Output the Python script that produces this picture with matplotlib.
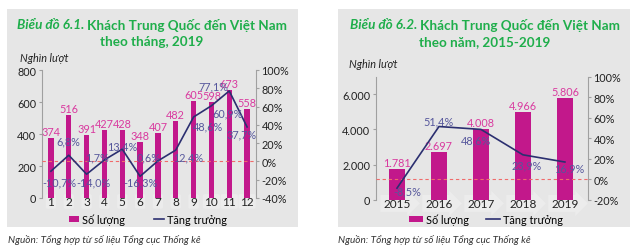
import matplotlib.pyplot as plt
from matplotlib.patches import Rectangle, Patch
from matplotlib.lines import Line2D

plt.rcParams['font.family'] = ['Lato', 'DejaVu Sans']

# data
months = ["1", "2", "3", "4", "5", "6", "7", "8", "9", "10", "11", "12"]
month_visitors = [374, 516, 391, 427, 428, 348, 407, 482, 605, 598, 673, 558]
month_growth = [-10.7, 6.8, -14.0, 1.7, 13.4, -16.3, 0.6, 12.4, 48.6, 60.9, 77.1, 37.7]

years = ["2015", "2016", "2017", "2018", "2019"]
year_visitors = [1781, 2697, 4008, 4966, 5806]
year_growth = [-8.5, 51.4, 48.6, 23.9, 16.9]

# label offsets in pixels (dx, dy)
month_off = [(8, -11), (0, 14), (7, -8), (-7, 3), (0, 3), (0, -6),
             (-9, 4), (12, -7), (14, -9), (16, -7), (-16, 5), (-6, -7)]
year_off = [(10, -3), (0, 6), (-5, -11), (4, -10), (4, -6)]

BAR = '#c2188b'
BAR_TXT = '#d93a9f'
LINE = '#2b2f70'
LINE_TXT = '#56579c'
GREEN = '#1fae4b'
BG = '#e6e6e6'
AXC = '#a0a0a0'
FS = 7.8

fig = plt.figure(figsize=(6.4, 2.53), dpi=100)
W, H = 640, 253


def fbox(x0, y0, x1, y1):
    return [x0 / W, 1 - y1 / H, (x1 - x0) / W, (y1 - y0) / H]


for x0, x1 in [(7, 298), (338, 630)]:
    b = fbox(x0, 10, x1, 228)
    fig.patches.append(Rectangle((b[0], b[1]), b[2], b[3], transform=fig.transFigure,
                                 facecolor=BG, edgecolor='none', zorder=-5))


def thousands(v):
    return f"{v:,}".replace(",", ".")


def pct(v):
    return f"{v:.1f}%".replace(".", ",")


def draw(ax, labels, vals, growth, offs, ylim, yticks, ytl, glim, gticks, width, fmt_bar, xlim):
    x = list(range(len(labels)))
    ax.set_facecolor('none')
    ax.bar(x, vals, width=width, color=BAR, zorder=2)
    for xi, v in zip(x, vals):
        ax.annotate(fmt_bar(v), (xi, v), xytext=(0, 1), textcoords='offset pixels',
                    ha='center', va='bottom', fontsize=FS, color=BAR_TXT, zorder=5)
    ax.set_ylim(*ylim)
    ax.set_yticks(yticks)
    ax.set_yticklabels(ytl)
    ax.set_xlim(*xlim)
    ax.set_xticks(x)
    ax.set_xticklabels(labels)
    for s in ['top', 'bottom', 'right']:
        ax.spines[s].set_visible(False)
    ax.spines['left'].set_color(AXC)
    ax.tick_params(axis='y', length=2, color=AXC, labelsize=FS, pad=2, labelcolor='#222222')
    ax.tick_params(axis='x', length=0, labelsize=8.5, pad=-1.5, labelcolor='#222222')

    ax2 = ax.twinx()
    ax2.set_ylim(*glim)
    ax2.set_yticks(gticks)
    ax2.set_yticklabels([f"{g}%" for g in gticks])
    for s in ['top', 'bottom', 'left']:
        ax2.spines[s].set_visible(False)
    ax2.spines['right'].set_color(AXC)
    ax2.tick_params(axis='y', length=2, color=AXC, labelsize=FS, pad=2, labelcolor='#222222')
    ax2.axhline(0, color='#f06b6b', lw=0.8, ls=(0, (3, 2.5)), zorder=1)
    ax2.plot(x, growth, color=LINE, lw=1.2, zorder=3)
    for xi, g, (dx, dy) in zip(x, growth, offs):
        ax2.annotate(pct(g), (xi, g), xytext=(dx, dy), textcoords='offset pixels',
                     ha='center', va='center', fontsize=FS, color=LINE_TXT, zorder=5)
    return ax2


# left chart
axL = fig.add_axes(fbox(42, 71, 256, 199))
draw(axL, months, month_visitors, month_growth, month_off,
     (0, 800), [0, 200, 400, 600, 800], ["0", "200", "400", "600", "800"],
     (-40, 100), [-40, -20, 0, 20, 40, 60, 80, 100], 0.3, str, (-0.5, 11.5))
for t in axL.get_xticklabels():
    t.set_bbox(dict(boxstyle='round,pad=0.15', facecolor='#ececec', edgecolor='none'))

# right chart
axR = fig.add_axes(fbox(376, 77.5, 588, 201))
draw(axR, years, year_visitors, year_growth, year_off,
     (0, 7000), [0, 2000, 4000, 6000], ["0", "2.000", "4.000", "6.000"],
     (-20, 100), [-20, 0, 20, 40, 60, 80, 100], 0.4, thousands, (-0.5, 4.55))
for t in axR.get_xticklabels():
    t.set_bbox(dict(boxstyle='rarrow,pad=0.25', facecolor='#ececec', edgecolor='none'))

# titles
TFS = 9.7
fig.canvas.draw()
r = fig.canvas.get_renderer()
for cx, num, rest in [(152, "6.1.", "theo tháng, 2019"), (485, "6.2.", "theo năm, 2015-2019")]:
    a = fig.text(0, 1 - 25 / H, f"Biểu đồ {num} ", ha='left', va='center', fontsize=TFS,
                 fontweight='bold', style='italic', color=GREEN)
    b = fig.text(0, 1 - 25 / H, "Khách Trung Quốc đến Việt Nam", ha='left', va='center',
                 fontsize=TFS, fontweight='bold', color=GREEN)
    wa = a.get_window_extent(r).width
    wb = b.get_window_extent(r).width
    x0 = cx - (wa + wb) / 2
    a.set_x(x0 / W)
    b.set_x((x0 + wa) / W)
    fig.text(cx / W, 1 - 42 / H, rest, ha='center', va='center', fontsize=TFS,
             fontweight='bold', color=GREEN)

# unit labels
fig.text(20 / W, 1 - 58 / H, "Nghìn lượt", fontsize=FS, style='italic', va='center', color='#222222')
fig.text(349 / W, 1 - 65 / H, "Nghìn lượt", fontsize=FS, style='italic', va='center', color='#222222')

# legends
handles = [Patch(facecolor=BAR, edgecolor='none'), Line2D([0], [0], color=LINE, lw=1.2)]
names = ["Số lượng", "Tăng trưởng"]
for cx, hl, cs in [(148, 0.9, 2.7), (486, 1.3, 1.5)]:
    fig.legend(handles, names, loc='center', bbox_to_anchor=(cx / W, 1 - 220 / H), ncol=2,
               frameon=False, fontsize=FS, handlelength=hl, handleheight=0.45,
               handletextpad=0.3, columnspacing=cs)

# sources
for x0 in [8, 338]:
    fig.text(x0 / W, 1 - 240 / H, "Nguồn: Tổng hợp từ số liệu Tổng cục Thống kê", fontsize=7.2,
             style='italic', va='center', color='#333333')

fig.savefig('out.png', dpi=100)
